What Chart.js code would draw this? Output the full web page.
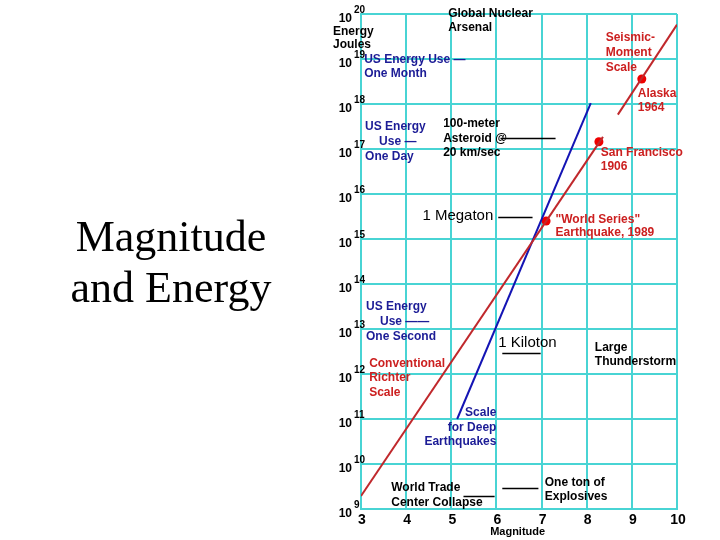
<!DOCTYPE html>
<html>
<head>
<meta charset="utf-8">
<script src="https://cdn.jsdelivr.net/npm/chart.js@4/dist/chart.umd.min.js"></script>
<style>
  body { margin: 0; background: #fff; }
  #wrap { position: relative; width: 720px; height: 540px; }
  #title {
    position: absolute; left: 0; top: 211px; width: 342px;
    text-align: center; font: 44px "Liberation Serif", "Times New Roman", serif;
    line-height: 51px; color: #000;
  }
  canvas { position: absolute; left: 0; top: 0; }
</style>
</head>
<body>
<div id="wrap">
  <canvas id="chart" width="720" height="540"></canvas>
  <div id="title">Magnitude<br>and Energy</div>
</div>
<script>
// axis ticks
const magnitudeTicks = [3, 4, 5, 6, 7, 8, 9, 10];
const energyExponents = [9, 10, 11, 12, 13, 14, 15, 16, 17, 18, 19, 20];

// conventional Richter scale (red)
const richterMag = [3.0, 8.36];
const richterEnergy = [1.95e9, 1.86e17];

// seismic-moment scale (red, upper right)
const momentMag = [8.69, 10.0];
const momentEnergy = [5.8e17, 5.8e19];

// scale for deep earthquakes (blue)
const deepMag = [5.13, 8.09];
const deepEnergy = [1.0e11, 1.05e18];

// named earthquakes
const quakeNames = ['World Series 1989', 'San Francisco 1906', 'Alaska 1964'];
const quakeMag = [7.1, 8.27, 9.22];
const quakeEnergy = [2.5e15, 1.45e17, 3.6e18];

const RED_TEXT = '#cc2020';
const BLUE_TEXT = '#1c1c96';
const BLACK = '#000';
const GRID = '#48d4d4';

// labels placed in data units: [text, magnitude, log10 energy, colour, align, font]
const SMALL = 'bold 12px "Liberation Sans", Arial, sans-serif';
const BIG = '15px "Liberation Sans", Arial, sans-serif';
const notes = [
  ['Global Nuclear', 4.93, 20.0, BLACK, 'left', SMALL],
  ['Arsenal', 4.93, 19.69, BLACK, 'left', SMALL],
  ['US Energy Use \u2014', 3.07, 18.98, BLUE_TEXT, 'left', SMALL],
  ['One Month', 3.07, 18.67, BLUE_TEXT, 'left', SMALL],
  ['US Energy', 3.09, 17.49, BLUE_TEXT, 'left', SMALL],
  ['Use \u2014', 3.40, 17.16, BLUE_TEXT, 'left', SMALL],
  ['One Day', 3.09, 16.84, BLUE_TEXT, 'left', SMALL],
  ['100-meter', 4.82, 17.56, BLACK, 'left', SMALL],
  ['Asteroid @', 4.82, 17.22, BLACK, 'left', SMALL],
  ['20 km/sec', 4.82, 16.91, BLACK, 'left', SMALL],
  ['Seismic-', 8.42, 19.47, RED_TEXT, 'left', SMALL],
  ['Moment', 8.42, 19.13, RED_TEXT, 'left', SMALL],
  ['Scale', 8.42, 18.80, RED_TEXT, 'left', SMALL],
  ['Alaska', 9.13, 18.24, RED_TEXT, 'left', SMALL],
  ['1964', 9.13, 17.91, RED_TEXT, 'left', SMALL],
  ['San Francisco', 8.31, 16.91, RED_TEXT, 'left', SMALL],
  ['1906', 8.31, 16.60, RED_TEXT, 'left', SMALL],
  ['1 Megaton', 5.93, 15.51, BLACK, 'right', BIG],
  ['"World Series"', 7.31, 15.44, RED_TEXT, 'left', SMALL],
  ['Earthquake, 1989', 7.31, 15.13, RED_TEXT, 'left', SMALL],
  ['US Energy', 3.11, 13.49, BLUE_TEXT, 'left', SMALL],
  ['Use \u2014\u2014', 3.42, 13.16, BLUE_TEXT, 'left', SMALL],
  ['One Second', 3.11, 12.84, BLUE_TEXT, 'left', SMALL],
  ['1 Kiloton', 6.04, 12.69, BLACK, 'left', BIG],
  ['Large', 8.18, 12.58, BLACK, 'left', SMALL],
  ['Thunderstorm', 8.18, 12.27, BLACK, 'left', SMALL],
  ['Conventional', 3.18, 12.22, RED_TEXT, 'left', SMALL],
  ['Richter', 3.18, 11.91, RED_TEXT, 'left', SMALL],
  ['Scale', 3.18, 11.58, RED_TEXT, 'left', SMALL],
  ['Scale', 6.0, 11.13, BLUE_TEXT, 'right', SMALL],
  ['for Deep', 6.0, 10.80, BLUE_TEXT, 'right', SMALL],
  ['Earthquakes', 6.0, 10.49, BLUE_TEXT, 'right', SMALL],
  ['World Trade', 3.67, 9.47, BLACK, 'left', SMALL],
  ['Center Collapse', 3.67, 9.13, BLACK, 'left', SMALL],
  ['One ton of', 7.07, 9.58, BLACK, 'left', SMALL],
  ['Explosives', 7.07, 9.27, BLACK, 'left', SMALL]
];

// black leader lines: [m1, m2, log10 energy]
const leaders = [
  [6.09, 7.31, 17.24],
  [6.04, 6.80, 15.49],
  [6.13, 6.98, 12.47],
  [5.27, 5.96, 9.29],
  [6.13, 6.93, 9.47]
];

function toPoints(xs, ys) {
  return xs.map((x, i) => ({ x: x, y: ys[i] }));
}

const overlay = {
  id: 'overlay',
  afterDraw(chart) {
    const ctx = chart.ctx;
    const xs = chart.scales.x;
    const ys = chart.scales.y;
    const area = chart.chartArea;
    ctx.save();

    // y tick labels: 10 with superscript
    energyExponents.forEach(k => {
      const y = ys.getPixelForValue(Math.pow(10, k));
      ctx.fillStyle = BLACK;
      ctx.textBaseline = 'middle';
      ctx.font = 'bold 12px "Liberation Sans", Arial, sans-serif';
      ctx.textAlign = 'right';
      ctx.fillText('10', area.left - 9, y + 5);
      ctx.font = 'bold 10px "Liberation Sans", Arial, sans-serif';
      ctx.textAlign = 'left';
      ctx.fillText(String(k), area.left - 7, y - 4);
    });
    ctx.font = 'bold 12px "Liberation Sans", Arial, sans-serif';
    ctx.textAlign = 'left';
    ctx.fillText('Energy', area.left - 28, area.top + 18);
    ctx.fillText('Joules', area.left - 28, area.top + 31);

    // x tick labels
    ctx.font = 'bold 14px "Liberation Sans", Arial, sans-serif';
    ctx.textAlign = 'center';
    magnitudeTicks.forEach(m => {
      ctx.fillText(String(m), xs.getPixelForValue(m) + 1, area.bottom + 11);
    });
    ctx.font = 'bold 11px "Liberation Sans", Arial, sans-serif';
    ctx.fillText('Magnitude', xs.getPixelForValue(6.47), area.bottom + 23);

    // annotations
    notes.forEach(n => {
      ctx.font = n[5];
      ctx.fillStyle = n[3];
      ctx.textAlign = n[4];
      ctx.fillText(n[0], xs.getPixelForValue(n[1]), ys.getPixelForValue(Math.pow(10, n[2])));
    });

    ctx.strokeStyle = BLACK;
    ctx.lineWidth = 1.5;
    leaders.forEach(l => {
      const y = Math.round(ys.getPixelForValue(Math.pow(10, l[2]))) + 0.5;
      ctx.beginPath();
      ctx.moveTo(xs.getPixelForValue(l[0]), y);
      ctx.lineTo(xs.getPixelForValue(l[1]), y);
      ctx.stroke();
    });
    ctx.restore();
  }
};

new Chart(document.getElementById('chart'), {
  type: 'scatter',
  data: {
    datasets: [
      {
        label: 'Conventional Richter Scale',
        data: toPoints(richterMag, richterEnergy),
        showLine: true, pointRadius: 0,
        borderColor: '#c0282c', borderWidth: 2
      },
      {
        label: 'Seismic-Moment Scale',
        data: toPoints(momentMag, momentEnergy),
        showLine: true, pointRadius: 0,
        borderColor: '#c0282c', borderWidth: 2
      },
      {
        label: 'Scale for Deep Earthquakes',
        data: toPoints(deepMag, deepEnergy),
        showLine: true, pointRadius: 0,
        borderColor: '#1414b4', borderWidth: 2
      },
      {
        label: 'Earthquakes',
        data: toPoints(quakeMag, quakeEnergy),
        pointRadius: 4.5, pointBackgroundColor: '#ee0000', pointBorderWidth: 0,
        showLine: false
      }
    ]
  },
  options: {
    responsive: false,
    animation: false,
    layout: { padding: { left: 361, top: 14, right: 43, bottom: 31 } },
    plugins: { legend: { display: false }, tooltip: { enabled: false } },
    scales: {
      x: {
        type: 'linear', min: 3, max: 10,
        ticks: { display: false, stepSize: 1 },
        grid: { color: GRID, lineWidth: 2, drawTicks: false },
        border: { color: GRID, width: 2 }
      },
      y: {
        type: 'logarithmic', min: 1e9, max: 1e20,
        afterBuildTicks: s => { s.ticks = energyExponents.map(k => ({ value: Math.pow(10, k) })); },
        ticks: { display: false },
        grid: { color: GRID, lineWidth: 2, drawTicks: false },
        border: { color: GRID, width: 2 }
      }
    }
  },
  plugins: [overlay]
});
</script>
</body>
</html>
